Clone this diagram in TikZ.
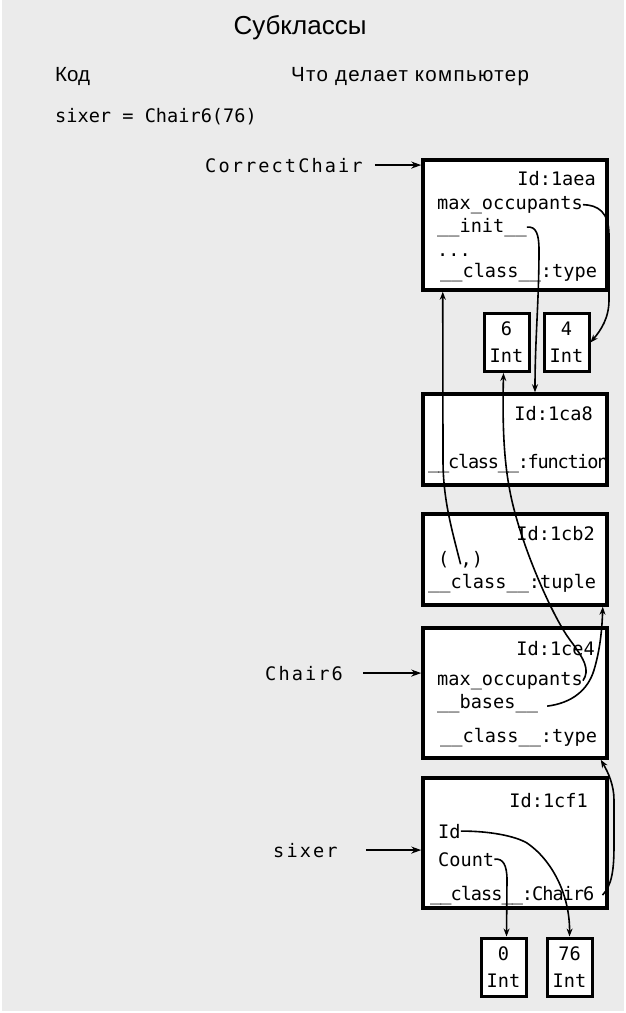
\documentclass[tikz,border=0pt]{standalone}
\usepackage{fontspec}
\setmainfont{Liberation Sans}
\setmonofont{DejaVu Sans Mono}
\newfontfamily\wideMono[LetterSpace=11.3]{DejaVu Sans Mono}
\newfontfamily\tightMono[LetterSpace=-6.7]{DejaVu Sans Mono}
\newfontfamily\snugMono[LetterSpace=-5.4]{DejaVu Sans Mono}
\newfontfamily\wideSans[LetterSpace=6.5]{Liberation Sans}
\usepackage{xcolor}
\usepackage{tikz}
\usetikzlibrary{arrows.meta}
\definecolor{PageGrey}{HTML}{EBEBEB}
\newcommand{\codesize}{\fontsize{18.6}{27}\selectfont}

\begin{document}
\begin{tikzpicture}[
    x=1pt, y=-1pt,
    obj/.style={draw=black, line width=3.5pt, fill=white, minimum width=184pt, inner sep=0pt},
    intbox/.style={draw=black, line width=3pt, fill=white, minimum width=45pt, minimum height=58pt,
      inner sep=0pt, align=center, font=\codesize\ttfamily},
    code/.style={inner sep=0pt, anchor=base west, font=\codesize\ttfamily},
    objid/.style={code, anchor=base east},
    lbl/.style={inner sep=0pt, anchor=base west, font=\codesize\wideMono},
    head/.style={inner sep=0pt, anchor=base west, font=\fontsize{20.5}{24}\selectfont},
    ref/.style={-{Stealth[length=8pt, width=6pt]}, line width=1.6pt},
    ptr/.style={-{Stealth[length=10pt, width=7pt]}, line width=2pt}
  ]
    \useasboundingbox (0,0) rectangle (626,1013);
    \fill[PageGrey] (2,0) rectangle (624,1011);

    \node[inner sep=0pt, anchor=base, font=\fontsize{26}{30}\selectfont] (title) at (300,34) {Субклассы};
    \node[head] (codeHead) at (55,81) {Код};
    \node[head, font=\fontsize{20.5}{24}\selectfont\wideSans] (compHead) at (291,81) {Что делает компьютер};
    \node[code] (codeLine) at (55,122) {sixer = Chair6(76)};

    % objects
    \node[obj, minimum height=130pt] (boxA) at (515,225) {};
    \node[intbox] (intSix) at (506.5,342.5) {6\\Int};
    \node[intbox] (intFour) at (566.5,342.5) {4\\Int};
    \node[obj, minimum height=91pt] (boxB) at (515,439.5) {};
    \node[obj, minimum height=91pt] (boxC) at (515,559.5) {};
    \node[obj, minimum height=130pt] (boxD) at (515,693) {};
    \node[obj, minimum height=130pt] (boxE) at (515,843) {};
    \node[intbox] (intZero) at (503.5,967) {0\\Int};
    \node[intbox] (intSeventySix) at (569.5,967) {76\\Int};

    \node[objid] (idA) at (596,185) {Id:1aea};
    \node[code] (occA) at (437,209) {max\_occupants};
    \node[code] (initA) at (437,232) {\_\_init\_\_};
    \node[code] (dotsA) at (437,256) {...};
    \node[code] (clsA) at (440,277) {\_\_class\_\_:type};

    \node[objid] (idB) at (593,420) {Id:1ca8};
    \node[code, font=\codesize\tightMono] (clsB) at (428,468) {\_\_class\_\_:function};

    \node[objid] (idC) at (595,540) {Id:1cb2};
    \node[code] (tupC) at (438,565) {( ,)};
    \node[code] (clsC) at (428,588) {\_\_class\_\_:tuple};

    \node[objid] (idD) at (595,655) {Id:1ce4};
    \node[code] (occD) at (437,685) {max\_occupants};
    \node[code] (basesD) at (437,708) {\_\_bases\_\_};
    \node[code] (clsD) at (440,742) {\_\_class\_\_:type};

    \node[objid] (idE) at (588,807) {Id:1cf1};
    \node[code] (idfE) at (438,838) {Id};
    \node[code] (countE) at (438,866) {Count};
    \node[code, font=\codesize\snugMono] (clsE) at (430,900) {\_\_class\_\_:Chair6};

    % names
    \node[lbl] (ccLabel) at (205,172) {CorrectChair};
    \node[lbl] (chairLabel) at (265,680) {Chair6};
    \node[lbl] (sixerLabel) at (273,857) {sixer};

    \draw[ptr, shorten <=12pt] (ccLabel.east) -- (ccLabel.east -| boxA.west);
    \draw[ptr, shorten <=20pt] (chairLabel.east) -- (chairLabel.east -| boxD.west);
    \draw[ptr, shorten <=28pt] (sixerLabel.east) -- (sixerLabel.east -| boxE.west);

    % references
    \draw[ref] (occA.east) .. controls (598,205) and (609,212) .. (609,235) -- (609,300)
      .. controls (609,318) and (601,330) .. (intFour.east);
    \draw[ref] (initA.east) .. controls (536,226) and (539,234) .. (539,250)
      .. controls (539,300) and (535,340) .. ([xshift=20pt]boxB.north);
    \draw[ref] ([yshift=-5pt]tupC.center) .. controls (452,530) and (443,500) .. (443,460)
      -- ([xshift=21.5pt]boxA.south west);
    \draw[ref] (occD.east) .. controls (590,670) and (585,660) .. (570,640)
      .. controls (555,620) and (530,565) .. (517,520)
      .. controls (505,480) and (502,440) .. ([xshift=-3pt]intSix.south);
    \draw[ref] ([xshift=9pt, yshift=-3pt]basesD.east) .. controls (572,703) and (588,690) .. (594,670)
      .. controls (600,650) and (602,630) .. ([xshift=-6pt]boxC.south east);
    \draw[ref] ([xshift=8pt]clsE.east) .. controls (612,885) and (614,870) .. (614,845) -- (614,800)
      .. controls (614,785) and (608,772) .. ([xshift=-8pt]boxD.south east);
    \draw[ref] (idfE.east) .. controls (490,831) and (515,836) .. (527,843)
      .. controls (552,860) and (570,895) .. (intSeventySix.north);
    \draw[ref] (countE.east) .. controls (503,858) and (507,865) .. (507,880)
      -- ([xshift=3pt]intZero.north);
  \end{tikzpicture}
\end{document}
